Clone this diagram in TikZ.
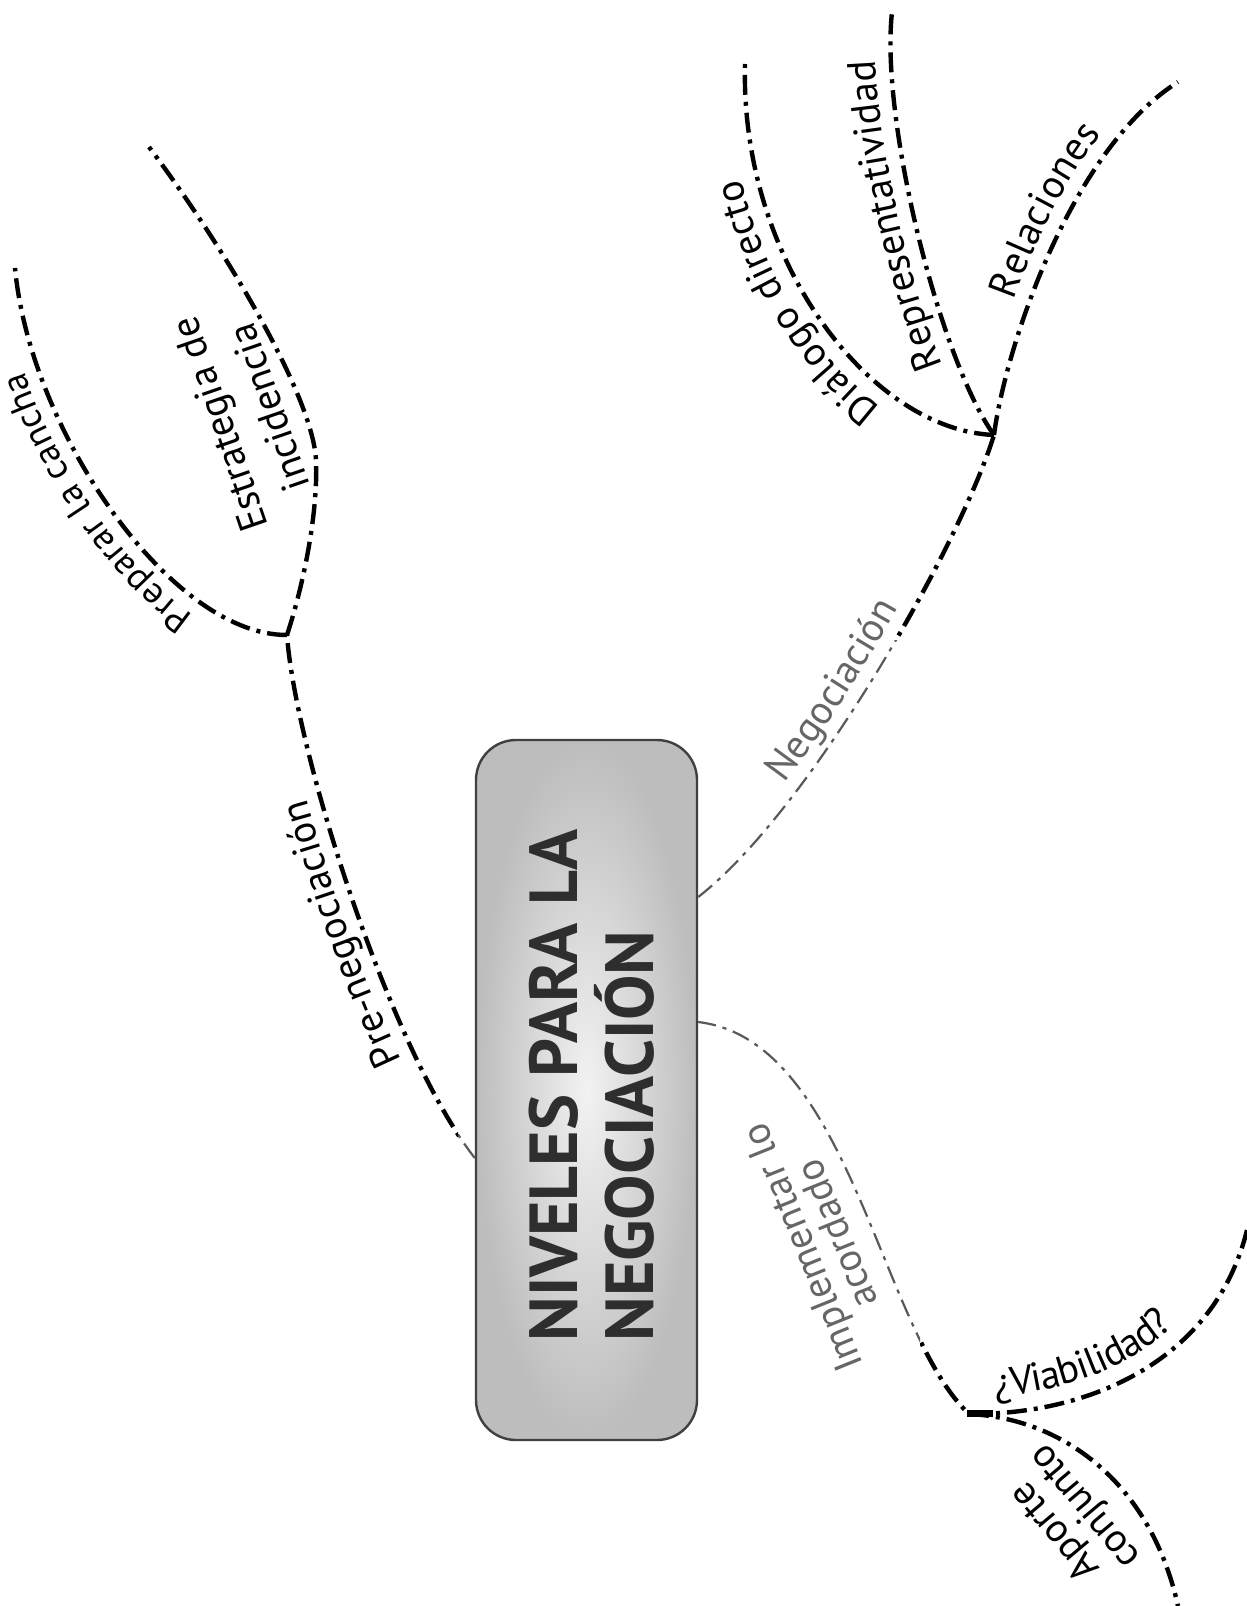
\documentclass[tikz,border=0pt]{standalone}
\usepackage{fontspec}
\setmainfont{PT Sans}
\usetikzlibrary{decorations.text}

\newcommand\lblfont{\fontsize{20}{24}\selectfont}
\newcommand\smlfont{\fontsize{18.5}{22}\selectfont}
\newcommand\ttlfont{\fontsize{34}{38}\selectfont\bfseries}

\begin{document}
\begin{tikzpicture}[x=0.5pt,y=-0.5pt,
  branch/.style={line width=2.2pt, line cap=butt,
    dash pattern=on 10pt off 3.5pt on 2pt off 3.5pt},
  faint/.style={line width=1.1pt, black!65,
    dash pattern=on 9pt off 3.5pt on 2pt off 3.5pt},
  titlebox/.style={draw=black!75, line width=1.2pt, rounded corners=20pt,
    inner color=gray!10, outer color=gray!52,
    minimum width=110.5pt, minimum height=350pt},
  lbl/.style n args={4}{postaction={decorate, decoration={text along path,
    text={|\lblfont|#1}, raise=#2, text align={left indent=#3}, text color=#4}}},
  lbls/.style n args={4}{postaction={decorate, decoration={text along path,
    text={|\smlfont|#1}, raise=#2, text align={left indent=#3}, text color=#4}}},
  twoline/.style n args={2}{align=center, inner sep=0pt,
    font=\fontsize{20}{#1}\selectfont, rotate=#2},
]
\useasboundingbox (0,0) rectangle (1247,1606);
\fill[white] (0,0) rectangle (1247,1606);

% central box
\node[titlebox] (box) at (586.5,1090) {};
\node[rotate=90, anchor=west, align=left, inner sep=0pt, text=black!82,
  font=\ttlfont] (title) at (592,1342) {NIVELES PARA LA\\NEGOCIACIÓN};

% junctions and free ends
\coordinate (pre0) at (box.west |- 0,1158);
\coordinate (neg0) at (box.east |- 0,897);
\coordinate (imp0) at (box.east |- 0,1022);
\coordinate (j1) at (287,635);
\coordinate (j2) at (994,435);
\coordinate (j3) at (969,1414);
\coordinate (pc) at (15,268);
\coordinate (ebend) at (316,461);
\coordinate (ei) at (149,147);
\coordinate (dd) at (745,64);
\coordinate (rp) at (892,12);
\coordinate (rl) at (1178,82);
\coordinate (vb) at (1247,1230);
\coordinate (ap) at (1178,1606);

% main branches leaving the box
\def\precurve{(pre0) .. controls (390,1050) and (295,750) .. (j1)}
\def\negcurve{(neg0) .. controls (810,810) and (960,545) .. (j2)}
\def\impcurve{(imp0) .. controls (850,1040) and (880,1330) .. (j3)}

% thin part near the box
\begin{scope}
  \clip (458,640) rectangle (920,1385);
  \draw[faint] \precurve;
  \draw[faint] \negcurve;
  \draw[faint] \impcurve;
\end{scope}
% heavy part further out
\begin{scope}
  \clip (0,0) rectangle (1247,640) (0,1385) rectangle (1247,1606)
        (0,0) rectangle (458,1606) (920,0) rectangle (1247,1606);
  \draw[branch] \precurve;
  \draw[branch] \negcurve;
  \draw[branch] \impcurve;
\end{scope}

\path[lbl={Pre-negociación}{7pt}{60pt}{black}] \precurve;
\path[lbl={Negociación}{7pt}{72pt}{black!60}] \negcurve;
\node[twoline={18.5pt}{112}, text=black!60] (impl) at (819,1241)
  {Implementar lo\\acordado};

% sub-branches of the first level
\draw[branch, lbls={Preparar la cancha}{7pt}{46pt}{black}]
  (j1) .. controls (170,635) and (30,430) .. (pc);
\draw[branch]
  (j1) .. controls (305,580) and (318,510) .. (ebend)
       .. controls (314,400) and (230,255) .. (ei);
\node[twoline={26pt}{109}] (estr) at (244,416) {Estrategia de\\incidencia};

\draw[branch, lbl={Diálogo directo}{8pt}{56pt}{black}]
  (j2) .. controls (870,430) and (740,260) .. (dd);
\draw[branch, lbl={Representatividad}{7.5pt}{42pt}{black}]
  (j2) .. controls (940,360) and (880,120) .. (rp);
\draw[branch, lbl={Relaciones}{7.5pt}{67pt}{black}]
  (j2) .. controls (1005,350) and (1070,150) .. (rl);

\fill (j3) ++(-2,-4) rectangle ++(26,7);
\draw[branch, lbl={¿Viabilidad?}{8.5pt}{14pt}{black}]
  (j3) .. controls (1090,1415) and (1215,1360) .. (vb);
\draw[branch] (j3) .. controls (1060,1418) and (1150,1480) .. (ap);
\node[twoline={19.5pt}{130}] (aporte) at (1071,1518) {Aporte\\conjunto};
\end{tikzpicture}
\end{document}
